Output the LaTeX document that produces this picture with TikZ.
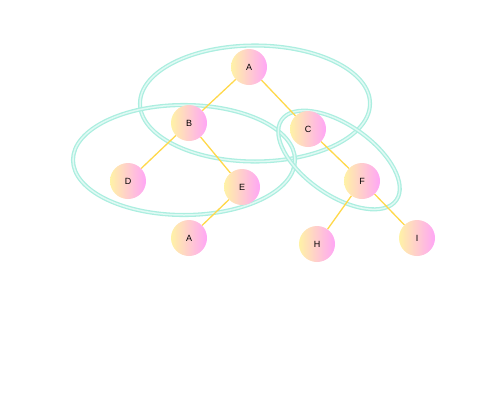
\documentclass[tikz,border=0pt]{standalone}
\usepackage{fontspec}
\setmainfont{Liberation Sans}
\usetikzlibrary{backgrounds}
\definecolor{nodeL}{HTML}{FFF2A6}
\definecolor{nodeR}{HTML}{FFA6F6}
\definecolor{edgeC}{HTML}{FFD84A}
\definecolor{ringC}{HTML}{ACEEE0}
\definecolor{ringI}{HTML}{E0FAF4}
\tikzset{
  tnode/.style={circle, minimum size=36pt, inner sep=0pt, left color=nodeL, right color=nodeR, draw=none, font=\fontsize{9}{10}\selectfont},
  tedge/.style={draw=edgeC, line width=1.3pt},
  ring/.style={draw=ringC, double=ringI, double distance=1.5pt, line width=1.3pt}
}
\begin{document}
\begin{tikzpicture}[x=1pt,y=-1pt]
\useasboundingbox (0,0) rectangle (500,400);
% nodes
\node[tnode] (a) at (249,67) {A};
\node[tnode] (b) at (189,123) {B};
\node[tnode] (c) at (308,129) {C};
\node[tnode] (d) at (128,181) {D};
\node[tnode] (e) at (242,187) {E};
\node[tnode] (f) at (362,181) {F};
\node[tnode] (a2) at (189,238) {A};
\node[tnode] (h) at (317,244) {H};
\node[tnode] (i) at (417,238) {I};
\begin{scope}[on background layer]
% rings
\draw[ring] (255,103.5) ellipse [x radius=115, y radius=58];
\draw[ring] (184,160) ellipse [x radius=111, y radius=55];
\draw[ring, rotate around={-35:(339,160)}] (339,160) ellipse [x radius=70, y radius=35];
% edges
\draw[tedge] (a) -- (b);
\draw[tedge] (a) -- (c);
\draw[tedge] (b) -- (d);
\draw[tedge] (b) -- (e);
\draw[tedge] (e) -- (a2);
\draw[tedge] (c) -- (f);
\draw[tedge] (f) -- (h);
\draw[tedge] (f) -- (i);
\end{scope}
\end{tikzpicture}
\end{document}
